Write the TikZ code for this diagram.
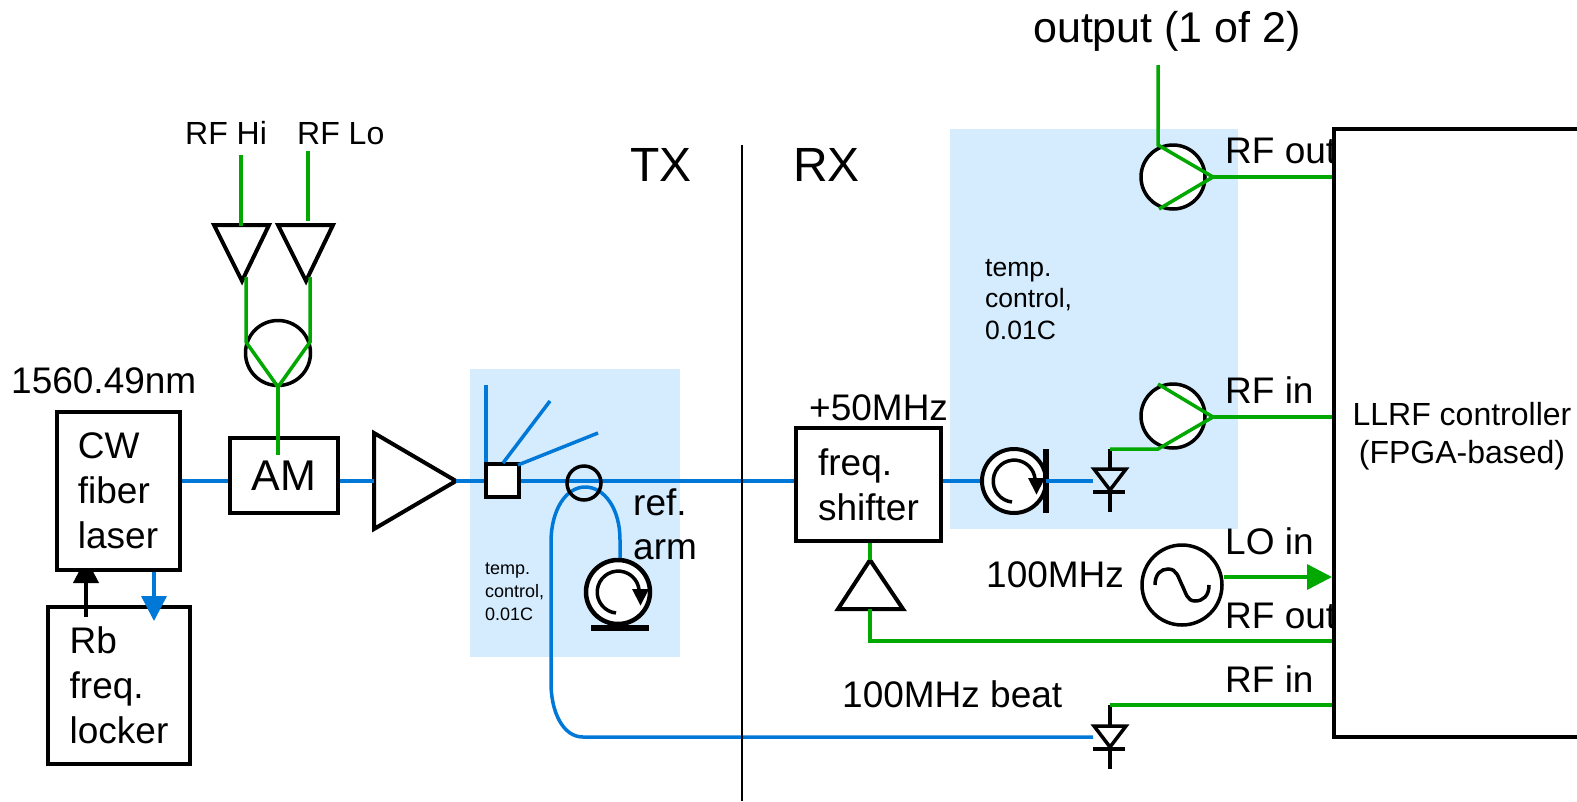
\documentclass[tikz,border=0pt]{standalone}
\usepackage{fontspec}
\setmainfont{Liberation Sans}
\usetikzlibrary{arrows.meta,backgrounds}
\definecolor{fiber}{RGB}{0,120,215}
\definecolor{rfline}{RGB}{0,168,0}
\definecolor{oven}{RGB}{212,236,253}
\tikzset{
  blk/.style={line width=3.5pt, black},
  fib/.style={line width=3.5pt, fiber},
  rf/.style={line width=3.5pt, rfline},
  bx/.style={draw, line width=4pt, fill=white, inner sep=0pt, align=left, font=\fontsize{37}{45}\selectfont},
  ring/.style={draw, circle, line width=3.5pt, fill=white, inner sep=0pt},
  lbl/.style={inner sep=0pt, anchor=base west, font=\fontsize{37}{45}\selectfont},
  spoolmark/.pic={
    \draw[line width=3.5pt] (-2,21) arc[start angle=96, end angle=355, radius=21];
    \fill (14,-3) -- (31,-3) -- (22.5,13.5) -- cycle;
  },
  pd/.pic={
    \draw[blk] (-16,0) -- (16,0) -- (0,21) -- cycle;
    \draw[blk] (-17,23) -- (15,23);
    \draw[blk] (0,23) -- (0,43);
  },
}
\begin{document}
\begin{tikzpicture}[x=1pt, y=-1pt]
  \useasboundingbox (0,0) rectangle (1577,801);
  % boxes
  \node[bx, minimum width=123, minimum height=158] (laser) at (118,491) {CW\\fiber\\laser};
  \node[bx, minimum width=108, minimum height=75] (mod) at (284,475.5) {\fontsize{43}{45}\selectfont AM};
  \node[bx, minimum width=145, minimum height=113] (shifter) at (868.5,484.5) {freq.\\shifter};
  \path[fill=none] (0,481) coordinate (fibY);
  \begin{scope}[on background layer]
    \fill[oven] (470,369) rectangle (680,657);
    \fill[oven] (950,129) rectangle (1238,529);
    \node[bx, line width=3.5pt, minimum width=142, minimum height=157] (locker) at (119,685.5) {Rb\\freq.\\locker};
    \coordinate (lockA) at (86,617);
    \coordinate (laserA) at (86,558);
    \coordinate (laserB) at (154,570);
    \coordinate (lockB) at (154,621);
    \draw[line width=4pt, -{Triangle[length=25pt, width=25pt]}] (lockA) -- (laserA);
    \draw[fib, -{Triangle[length=25pt, width=25pt]}] (laserB) -- (lockB);
  \end{scope}
  % amplifier and splitter
  \draw[blk, line width=4pt] (374,433) -- (456,481) coordinate (ampTip) -- (374,529) -- cycle;
  \coordinate (ampIn) at (374,481);
  \node[bx, minimum size=33] (split) at (502,480.5) {};
  \coordinate (outA) at (486,385);
  \coordinate (outB) at (550,401);
  \coordinate (outC) at (598,433);
  \coordinate (splitB) at (503,463);
  \coordinate (splitC) at (518,465);
  \draw[fib] (laser.east |- fibY) -- (mod.west |- fibY);
  \draw[fib] (mod.east |- fibY) -- (ampIn);
  \draw[fib] (ampTip) -- (split.west |- fibY);
  \draw[fib] (split.east |- fibY) -- (shifter.west |- fibY);
  \draw[fib] (outA) -- (split.north -| outA);
  \draw[fib] (outB) -- (splitB);
  \draw[fib] (outC) -- (splitC);
  % reference arm
  \node[ring, line width=4.5pt, minimum size=64] (spoolA) at (618,592) {};
  \pic at (spoolA) {spoolmark};
  \draw[line width=6pt] (591,628) -- (649,628);
  \coordinate (loopR) at (620,540);
  \coordinate (loopTop) at (585,487);
  \coordinate (loopL) at (551,542);
  \coordinate (loopM) at (551,683);
  \coordinate (loopB) at (583,737);
  \coordinate (pdBIn) at (1093,737);
  \draw[fib] (spoolA.north -| loopR) -- (loopR) .. controls (620,508) and (604,487) .. (loopTop)
    .. controls (566,487) and (551,510) .. (loopL) -- (loopM)
    .. controls (551,712) and (563,737) .. (loopB) -- (pdBIn);
  \node[draw, circle, line width=3.5pt, inner sep=0pt, minimum size=34] (pol) at (584,483) {};
  % receiver
  \node[ring, line width=4pt, minimum size=64] (spoolB) at (1014,481) {};
  \pic at (spoolB) {spoolmark};
  \draw[line width=6pt] (1046,449) -- (1046,513);
  \coordinate (pdAIn) at (1093,481);
  \draw[fib] (shifter.east |- fibY) -- (spoolB.west);
  \draw[fib] (1046,481) -- (pdAIn);
  \pic at (1110,469) {pd};
  \pic at (1110,726) {pd};
  \coordinate (pdATop) at (1110,449);
  \coordinate (pdBTop) at (1110,705);
  \draw[blk] (pdATop) -- (1110,469);
  \draw[blk] (pdBTop) -- (1110,726);
  % shifter driver
  \draw[blk, line width=4pt] (870,560) coordinate (drvTop) -- (903,609) -- (838,609) -- cycle;
  \coordinate (drvBot) at (870,609);
  \draw[rf] (shifter.south -| drvTop) -- (drvTop);
  % LLRF controller
  \draw[line width=4pt] (1577,129) -- (1334,129) -- (1334,737) -- (1577,737);
  \node[inner sep=0pt, align=center, font=\fontsize{32}{38}\selectfont] (llrf) at (1462,436) {LLRF controller\\(FPGA-based)};
  \coordinate (portA) at (1332,177);
  \coordinate (portB) at (1332,417);
  \coordinate (portC) at (1332,577);
  \coordinate (portD) at (1332,641);
  \coordinate (portE) at (1332,705);
  % mixers
  \node[ring, minimum size=65] (mixA) at (278,353) {};
  \node[ring, minimum size=64] (mixB) at (1173,177) {};
  \node[ring, minimum size=64] (mixC) at (1173,416) {};
  \node[ring, minimum size=80] (osc) at (1182,585) {};
  \draw[line width=3.5pt] (1155,585) .. controls (1155,574) and (1161,569) .. (1168,569)
    .. controls (1177,569) and (1178,577) .. (1182,585)
    .. controls (1186,593) and (1187,601) .. (1195,601)
    .. controls (1203,601) and (1209,596) .. (1209,585);
  % RF drive of the modulator
  \draw[blk, line width=4pt] (214,225) -- (269,225) -- (242,281) -- cycle;
  \draw[blk, line width=4pt] (278,225) -- (333,225) -- (306,281) -- cycle;
  \coordinate (hiIn) at (241,155);
  \coordinate (hiOut) at (241,226);
  \coordinate (loIn) at (308,151);
  \coordinate (loOut) at (308,221);
  \coordinate (mixAIn) at (278,387);
  \coordinate (modIn) at (278,455);
  \draw[rf] (hiIn) -- (hiOut);
  \draw[rf] (loIn) -- (loOut);
  \draw[rf] (246,277) -- (246,342) -- (mixAIn) -- (310,342) -- (310,277);
  \draw[rf] (mixAIn) -- (modIn);
  % RF lines
  \coordinate (outTop) at (1158,65);
  \coordinate (tipB) at (1213,177);
  \coordinate (tipC) at (1213,417);
  \draw[rf] (outTop) -- (1158,145) -- (tipB) -- (1159,209);
  \draw[rf] (tipB) -- (portA);
  \draw[rf] (1158,384) -- (tipC) -- (1158,449) -- (pdATop);
  \draw[rf] (tipC) -- (portB);
  \draw[rf, -{Triangle[length=25pt, width=25pt]}] (osc.east |- portC) -- (portC);
  \draw[rf] (drvBot) -- (drvBot |- portD) -- (portD);
  \draw[rf] (pdBTop) -- (portE);
  % divider
  \coordinate (divTop) at (742,145);
  \coordinate (divBot) at (742,801);
  \draw[line width=1.5pt] (divTop) -- (divBot);
  % labels
  \node[lbl, font=\fontsize{32}{36}\selectfont] (lblHi) at (185,144) {RF Hi};
  \node[lbl, font=\fontsize{32}{36}\selectfont] (lblLo) at (297,144) {RF Lo};
  \node[lbl] (lblWave) at (11,393) {1560.49nm};
  \node[lbl, font=\fontsize{48}{50}\selectfont] (lblTx) at (630,181) {TX};
  \node[lbl, font=\fontsize{48}{50}\selectfont] (lblRx) at (793,181) {RX};
  \node[lbl, font=\fontsize{43}{46}\selectfont] (lblOut) at (1033,42) {output (1 of 2)};
  \node[lbl] at (633,515) (lblRef) {ref.};
  \node[lbl] at (633,559) (lblArm) {arm};
  \node[lbl] (lblShift) at (809,420) {+50MHz};
  \node[lbl] (lblLo100) at (986,587) {100MHz};
  \node[lbl] (lblBeat) at (842,707) {100MHz beat};
  \node[lbl] (lblRfA) at (1225,163) {RF out};
  \node[lbl] (lblRfB) at (1225,403) {RF in};
  \node[lbl] (lblLoIn) at (1225,554) {LO in};
  \node[lbl] (lblRfC) at (1225,628) {RF out};
  \node[lbl] (lblRfD) at (1225,692) {RF in};
  \node[inner sep=0pt, anchor=north west, align=left, font=\fontsize{18}{23}\selectfont] (lblTempA) at (485,563) {temp.\\control,\\0.01C};
  \node[inner sep=0pt, anchor=north west, align=left, font=\fontsize{26.5}{31.5}\selectfont] (lblTempB) at (985,259) {temp.\\control,\\0.01C};
\end{tikzpicture}
\end{document}
